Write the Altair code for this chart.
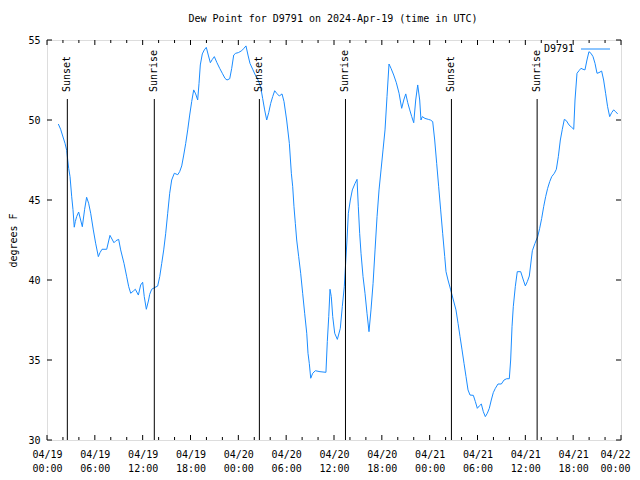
import altair as alt
import pandas as pd

# ---------------- data ----------------
hours = [1.42, 1.71, 1.97, 2.26, 2.47, 2.6, 2.72, 2.89, 3.1, 3.26, 3.42, 3.55, 3.72, 3.97, 4.22,
         4.43, 4.72, 4.97, 5.22, 5.48, 5.81, 6.1, 6.44, 6.65, 6.9, 7.49, 7.9, 8.4, 8.66, 8.99,
         9.24, 9.66, 10.0, 10.25, 10.5, 10.83, 11.08, 11.46, 11.75, 12.0, 12.2, 12.46, 12.75, 12.88, 13.13,
         13.55, 13.88, 14.14, 14.39, 14.64, 14.89, 15.14, 15.39, 15.64, 15.97, 16.4, 16.64, 16.9, 17.15, 17.4,
         17.65, 17.9, 18.15, 18.4, 18.65, 18.9, 19.07, 19.23, 19.48, 19.73, 19.98, 20.23, 20.49, 20.74, 20.99,
         21.32, 21.66, 21.99, 22.33, 22.58, 22.92, 23.17, 23.42, 23.67, 24.0, 24.42, 24.7, 24.96, 25.21, 25.46,
         25.8, 26.13, 26.47, 26.8, 27.05, 27.3, 27.56, 27.81, 28.06, 28.31, 28.56, 28.81, 29.14, 29.48, 29.73,
         30.06, 30.4, 30.65, 30.82, 30.98, 31.15, 31.32, 31.57, 31.82, 32.07, 32.32, 32.58, 32.74, 32.9, 33.08,
         33.33, 33.66, 34.24, 34.99, 35.16, 35.34, 35.5, 35.66, 35.84, 36.09, 36.42, 36.67, 36.79, 37.04, 37.29,
         37.46, 37.63, 37.8, 38.05, 38.3, 38.64, 38.89, 39.05, 39.22, 39.39, 39.64, 39.89, 40.14, 40.39, 40.64,
         40.9, 41.15, 41.4, 41.65, 41.9, 42.15, 42.4, 42.65, 42.9, 43.15, 43.49, 43.82, 44.16, 44.49, 44.75,
         45.0, 45.25, 45.5, 45.75, 46.0, 46.25, 46.5, 46.75, 46.91, 47.08, 47.41, 47.83, 48.1, 48.38, 48.63,
         48.88, 49.13, 49.38, 49.63, 49.89, 50.05, 50.3, 50.64, 50.97, 51.3, 51.56, 51.81, 52.06, 52.31, 52.56,
         52.81, 53.06, 53.48, 53.73, 53.98, 54.23, 54.48, 54.73, 54.98, 55.23, 55.48, 55.73, 55.98, 56.24, 56.57,
         56.99, 57.33, 57.66, 57.99, 58.16, 58.33, 58.49, 58.74, 58.99, 59.42, 59.75, 60.0, 60.25, 60.5, 60.88,
         61.21, 61.55, 61.8, 62.05, 62.3, 62.55, 62.8, 63.06, 63.31, 63.64, 63.89, 64.14, 64.39, 64.64, 64.89,
         65.14, 65.48, 65.82, 66.07, 66.23, 66.48, 66.73, 66.98, 67.23, 67.48, 67.73, 67.98, 68.23, 68.49, 68.74,
         68.99, 69.24, 69.57, 69.82, 70.07, 70.32, 70.58, 70.83, 71.08, 71.33, 71.58]
dew = [49.75, 49.42, 49.0, 48.54, 48.1, 47.5, 46.98, 46.46, 45.2, 44.4, 43.3, 43.65, 43.96, 44.25, 43.75,
       43.33, 44.42, 45.17, 44.8, 44.17, 43.13, 42.3, 41.46, 41.71, 41.92, 41.92, 42.79, 42.33, 42.46, 42.54,
       41.88, 41.04, 40.2, 39.58, 39.17, 39.31, 39.42, 39.06, 39.69, 39.86, 38.96, 38.17, 38.75, 39.1, 39.42,
       39.54, 39.62, 40.21, 41.04, 41.88, 42.92, 44.17, 45.42, 46.25, 46.67, 46.58, 46.77, 47.13, 47.81, 48.54,
       49.38, 50.31, 51.15, 51.88, 51.63, 51.25, 52.29, 53.44, 54.13, 54.38, 54.54, 54.06, 53.58, 53.79, 53.96,
       53.58, 53.23, 52.92, 52.6, 52.5, 52.58, 53.23, 54.06, 54.17, 54.21, 54.33, 54.48, 54.63, 54.06, 53.54,
       53.17, 52.81, 52.5, 52.08, 51.35, 50.63, 50.0, 50.46, 51.04, 51.46, 51.83, 51.67, 51.5, 51.63, 51.15,
       50.0, 48.54, 46.67, 45.83, 44.58, 43.54, 42.5, 41.46, 40.42, 39.17, 37.92, 36.67, 35.42, 34.79, 33.86,
       34.17, 34.33, 34.27, 34.23, 36.15, 37.71, 39.42, 38.96, 37.71, 36.67, 36.29, 36.75, 36.98, 38.33, 39.58,
       41.04, 42.5, 44.17, 45.0, 45.63, 46.04, 46.29, 44.58, 42.92, 41.67, 40.21, 39.17, 37.92, 36.77, 38.13,
       39.79, 41.88, 43.96, 45.63, 46.88, 48.13, 49.38, 51.46, 53.5, 53.23, 52.81, 52.33, 51.67, 50.73, 51.25,
       51.63, 51.08, 50.63, 50.21, 49.83, 51.25, 52.19, 51.25, 50.0, 50.21, 50.1, 50.04, 50.0, 49.9, 48.75,
       47.29, 45.83, 44.38, 42.92, 41.46, 40.52, 40.0, 39.38, 38.75, 38.13, 37.29, 36.46, 35.63, 34.79, 33.96,
       33.13, 32.81, 32.79, 32.4, 31.98, 32.13, 32.25, 31.77, 31.46, 31.67, 31.98, 32.5, 32.96, 33.23, 33.5,
       33.5, 33.75, 33.83, 33.83, 35.0, 37.08, 38.33, 39.58, 40.52, 40.52, 40.0, 39.63, 39.9, 40.25, 41.83,
       42.29, 42.71, 43.23, 43.85, 44.58, 45.21, 45.73, 46.15, 46.46, 46.67, 46.92, 47.71, 48.75, 49.42, 50.04,
       49.96, 49.69, 49.54, 49.42, 51.25, 52.92, 53.08, 53.23, 53.17, 53.13, 53.75, 54.27, 54.17, 53.96, 53.54,
       52.92, 52.96, 53.06, 52.5, 51.67, 50.83, 50.21, 50.46, 50.63, 50.52, 50.38]

event_hours = [2.55, 13.46, 26.64, 37.44, 50.73, 61.48]
event_labels = ["Sunset", "Sunrise", "Sunset", "Sunrise", "Sunset", "Sunrise"]

major_tick_hours = [0, 6, 12, 18, 24, 30, 36, 42, 48, 54, 60, 66, 72]
minor_tick_hours = [2, 4, 8, 10, 14, 16, 20, 22, 26, 28, 32, 34, 38, 40, 44, 46, 50, 52, 56, 58, 62, 64, 68, 70]
y_ticks = [30, 35, 40, 45, 50, 55]
series_name = "D9791"
title_text = "Dew Point for D9791 on 2024-Apr-19 (time in UTC)"

# ---------------- helpers ----------------
START_MS = pd.Timestamp("2024-04-19T00:00:00", tz="UTC").value // 10**6


def ms(h):
    return START_MS + int(round(h * 3600000))


FONT = "DejaVu Sans Mono"
BLUE = "#1a8cff"
W, H = 574, 400

df = pd.DataFrame({"t": [ms(h) for h in hours], "dew": dew})
ev = pd.DataFrame({"t": [ms(h) for h in event_hours], "label": event_labels})
major_df = pd.DataFrame({"t": [ms(h) for h in major_tick_hours]})
minor_df = pd.DataFrame({"t": [ms(h) for h in minor_tick_hours]})
ytick_df = pd.DataFrame({"v": y_ticks})
legend_df = pd.DataFrame({"name": [series_name]})
title_df = pd.DataFrame({"title": [title_text]})

xscale = alt.Scale(type="utc", domain=[ms(0), ms(72)])
yscale = alt.Scale(domain=[30, 55], nice=False, zero=False)


def xenc():
    return alt.X("t:T", scale=xscale)


def yenc():
    return alt.Y("v:Q", scale=yscale)


last_tick = ms(major_tick_hours[-1])

line = alt.Chart(df).mark_line(color=BLUE, strokeWidth=1).encode(
    x=alt.X(
        "t:T",
        scale=xscale,
        axis=alt.Axis(
            values=[ms(h) for h in major_tick_hours],
            labelExpr="[utcFormat(datum.value, '%m/%d'), utcFormat(datum.value, '%H:%M')]",
            title=None, ticks=False, domain=False, grid=False,
            labelPadding=9, labelLineHeight=14, labelFont=FONT, labelFontSize=10,
            labelColor="black", labelAngle=0, labelAlign="center", labelBaseline="top",
            labelFlush=False, labelOverlap=False,
            labelOffset={"condition": {"test": f"datum.value >= {last_tick}", "value": -6}, "value": 0},
        ),
    ),
    y=alt.Y(
        "dew:Q",
        scale=yscale,
        axis=alt.Axis(
            values=y_ticks, title="degrees F", ticks=False, domain=False, grid=False,
            labelPadding=7, labelFont=FONT, labelFontSize=10, labelColor="black",
            titleX=-34, titleY=200, titleAngle=270, titleAlign="center", titleBaseline="middle",
            titleFont=FONT, titleFontSize=10, titleFontWeight="normal", titleColor="black",
        ),
    ),
)

rules = alt.Chart(ev).mark_rule(color="black", strokeWidth=1).encode(
    x=xenc(), y=alt.value(59), y2=alt.value(H)
)
ev_text = alt.Chart(ev).mark_text(
    angle=270, align="left", baseline="middle", font=FONT, fontSize=10, color="black"
).encode(x=xenc(), y=alt.value(52), text="label:N")

maj_bot = alt.Chart(major_df).mark_rule(color="black").encode(x=xenc(), y=alt.value(H), y2=alt.value(H - 5))
maj_top = alt.Chart(major_df).mark_rule(color="black").encode(x=xenc(), y=alt.value(0), y2=alt.value(5))
min_bot = alt.Chart(minor_df).mark_rule(color="black").encode(x=xenc(), y=alt.value(H), y2=alt.value(H - 3))
min_top = alt.Chart(minor_df).mark_rule(color="black").encode(x=xenc(), y=alt.value(0), y2=alt.value(3))
yt_left = alt.Chart(ytick_df).mark_rule(color="black").encode(y=yenc(), x=alt.value(0), x2=alt.value(5))
yt_right = alt.Chart(ytick_df).mark_rule(color="black").encode(y=yenc(), x=alt.value(W - 5), x2=alt.value(W))

leg_text = alt.Chart(legend_df).mark_text(
    align="right", baseline="middle", font=FONT, fontSize=10, color="black"
).encode(x=alt.value(527), y=alt.value(9), text="name:N")
leg_line = alt.Chart(legend_df).mark_rule(color=BLUE, strokeWidth=1).encode(
    x=alt.value(534), x2=alt.value(563), y=alt.value(9)
)
title_mark = alt.Chart(title_df).mark_text(
    align="center", baseline="middle", font=FONT, fontSize=10, color="black"
).encode(x=alt.value(286), y=alt.value(-21), text="title:N")

chart = alt.layer(
    line, rules, ev_text, maj_bot, maj_top, min_bot, min_top, yt_left, yt_right,
    leg_text, leg_line, title_mark
).properties(
    width=W,
    height=H,
    autosize=alt.AutoSizeParams(type="none"),
    padding={"left": 39, "top": 32, "right": 11, "bottom": 34},
).configure_view(stroke="black", strokeWidth=1).configure(background="white")

chart.save("out.html", embed_options={"renderer": "svg", "actions": False})
